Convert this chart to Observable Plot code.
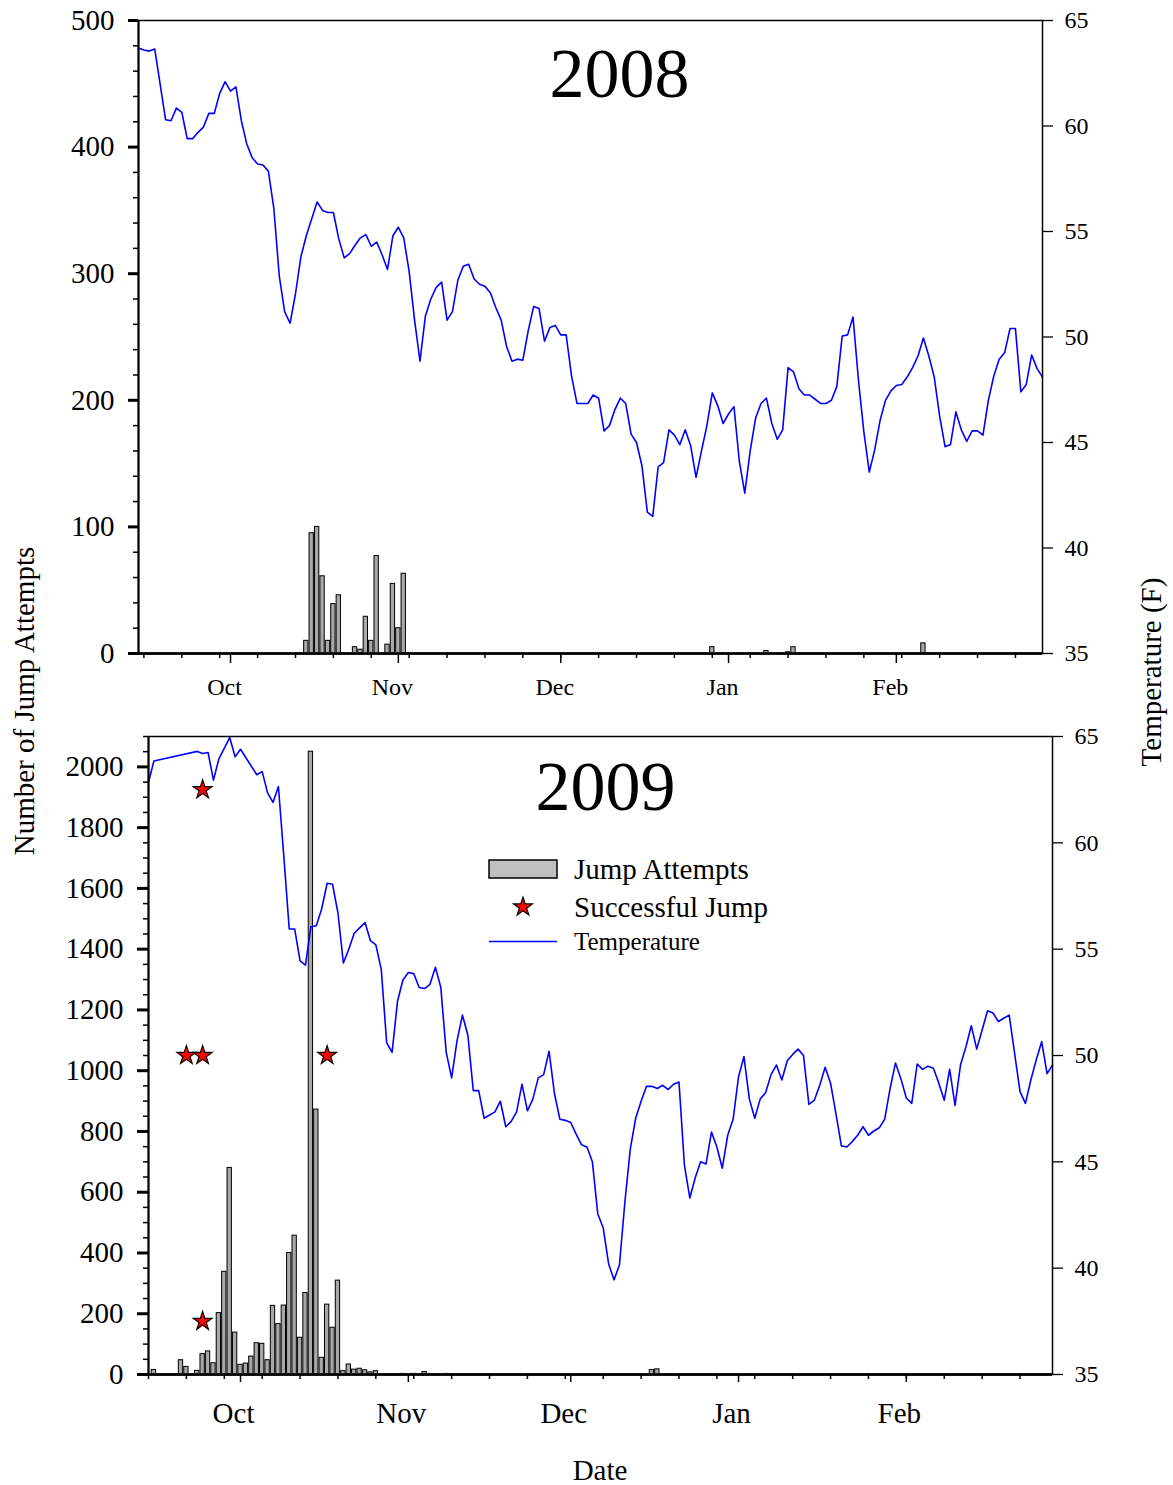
<!DOCTYPE html>
<html><head><meta charset="utf-8">
<script src="https://cdn.jsdelivr.net/npm/d3@7"></script>
<script src="https://cdn.jsdelivr.net/npm/@observablehq/plot@0.6"></script>
<style>
body{margin:0;background:#fff;}
#wrap{position:relative;width:1173px;height:1485px;font-family:"Liberation Serif","Times New Roman",serif;background:#fff;}
#top,#bottom,#overlay{position:absolute;left:0;}
#top{top:0}
#bottom{top:715px}
#overlay{top:0;pointer-events:none}
</style></head>
<body><div id="wrap"><div id="top"></div><div id="bottom"></div><svg id="overlay" width="1173" height="1485"></svg></div>
<script>
// ---------------- DATA ----------------
const temp2008 = [
["2008-09-14",63.7],["2008-09-15",63.6],["2008-09-16",63.55],["2008-09-17",63.65],["2008-09-19",60.3],["2008-09-20",60.25],
["2008-09-21",60.85],["2008-09-22",60.65],["2008-09-23",59.4],["2008-09-24",59.4],["2008-09-25",59.7],["2008-09-26",59.95],
["2008-09-27",60.6],["2008-09-28",60.6],["2008-09-29",61.55],["2008-09-30",62.1],["2008-10-01",61.65],["2008-10-02",61.85],
["2008-10-03",60.25],["2008-10-04",59.15],["2008-10-05",58.5],["2008-10-06",58.2],["2008-10-07",58.15],["2008-10-08",57.85],
["2008-10-09",56.1],["2008-10-10",52.9],["2008-10-11",51.2],["2008-10-12",50.65],["2008-10-13",52.05],["2008-10-14",53.8],
["2008-10-15",54.8],["2008-10-16",55.6],["2008-10-17",56.4],["2008-10-18",56.0],["2008-10-19",55.9],["2008-10-20",55.9],
["2008-10-21",54.65],["2008-10-22",53.75],["2008-10-23",53.95],["2008-10-24",54.35],["2008-10-25",54.7],["2008-10-26",54.85],
["2008-10-27",54.3],["2008-10-28",54.5],["2008-10-29",53.9],["2008-10-30",53.2],["2008-10-31",54.8],["2008-11-01",55.2],
["2008-11-02",54.7],["2008-11-03",53.1],["2008-11-04",50.8],["2008-11-05",48.85],["2008-11-06",51.0],["2008-11-07",51.8],
["2008-11-08",52.35],["2008-11-09",52.6],["2008-11-10",50.8],["2008-11-11",51.2],["2008-11-12",52.7],["2008-11-13",53.35],
["2008-11-14",53.45],["2008-11-15",52.75],["2008-11-16",52.5],["2008-11-17",52.4],["2008-11-18",52.1],["2008-11-19",51.4],
["2008-11-20",50.8],["2008-11-21",49.55],["2008-11-22",48.85],["2008-11-23",48.95],["2008-11-24",48.9],["2008-11-25",50.3],
["2008-11-26",51.45],["2008-11-27",51.35],["2008-11-28",49.8],["2008-11-29",50.45],["2008-11-30",50.55],["2008-12-01",50.1],
["2008-12-02",50.1],["2008-12-03",48.15],["2008-12-04",46.85],["2008-12-05",46.85],["2008-12-06",46.85],["2008-12-07",47.25],
["2008-12-08",47.1],["2008-12-09",45.55],["2008-12-10",45.8],["2008-12-11",46.55],["2008-12-12",47.1],["2008-12-13",46.85],
["2008-12-14",45.4],["2008-12-15",45.0],["2008-12-16",43.9],["2008-12-17",41.7],["2008-12-18",41.5],["2008-12-19",43.85],
["2008-12-20",44.05],["2008-12-21",45.6],["2008-12-22",45.35],["2008-12-23",44.9],["2008-12-24",45.6],["2008-12-25",44.85],
["2008-12-26",43.35],["2008-12-27",44.6],["2008-12-28",45.8],["2008-12-29",47.35],["2008-12-30",46.75],["2008-12-31",45.9],
["2009-01-01",46.35],["2009-01-02",46.7],["2009-01-03",44.1],["2009-01-04",42.6],["2009-01-05",44.6],["2009-01-06",46.15],
["2009-01-07",46.85],["2009-01-08",47.1],["2009-01-09",45.9],["2009-01-10",45.15],["2009-01-11",45.6],["2009-01-12",48.55],
["2009-01-13",48.35],["2009-01-14",47.55],["2009-01-15",47.25],["2009-01-16",47.25],["2009-01-17",47.05],["2009-01-18",46.85],
["2009-01-19",46.85],["2009-01-20",47.0],["2009-01-21",47.65],["2009-01-22",50.05],["2009-01-23",50.1],["2009-01-24",50.95],
["2009-01-25",47.95],["2009-01-26",45.5],["2009-01-27",43.6],["2009-01-28",44.65],["2009-01-29",46.05],["2009-01-30",47.0],
["2009-01-31",47.45],["2009-02-01",47.7],["2009-02-02",47.75],["2009-02-03",48.1],["2009-02-04",48.55],["2009-02-05",49.1],
["2009-02-06",49.95],["2009-02-07",49.1],["2009-02-08",48.1],["2009-02-09",46.25],["2009-02-10",44.8],["2009-02-11",44.9],
["2009-02-12",46.45],["2009-02-13",45.6],["2009-02-14",45.05],["2009-02-15",45.55],["2009-02-16",45.55],["2009-02-17",45.35],
["2009-02-18",47.0],["2009-02-19",48.15],["2009-02-20",48.95],["2009-02-21",49.25],["2009-02-22",50.4],["2009-02-23",50.4],
["2009-02-24",47.4],["2009-02-25",47.75],["2009-02-26",49.15],["2009-02-27",48.5],["2009-02-28",48.1]
];
const jumps2008 = [
["2008-10-15",10],["2008-10-16",95],["2008-10-17",100],["2008-10-18",61],["2008-10-19",10],["2008-10-20",39],["2008-10-21",46],
["2008-10-24",5],["2008-10-25",3],["2008-10-26",29],["2008-10-27",10],["2008-10-28",77],
["2008-10-30",7],["2008-10-31",55],["2008-11-01",20],["2008-11-02",63],
["2008-12-29",5],["2009-01-08",2],["2009-01-12",1],["2009-01-13",5],["2009-02-06",8]
];
const temp2009 = [
["2009-09-14",62.85],["2009-09-15",63.85],["2009-09-23",64.3],["2009-09-24",64.2],["2009-09-25",64.25],["2009-09-26",62.95],
["2009-09-27",63.95],["2009-09-29",64.95],["2009-09-30",64.05],["2009-10-01",64.4],["2009-10-02",64.0],["2009-10-03",63.6],
["2009-10-04",63.2],["2009-10-05",63.35],["2009-10-06",62.35],["2009-10-07",61.9],["2009-10-08",62.65],["2009-10-09",59.35],
["2009-10-10",55.95],["2009-10-11",55.95],["2009-10-12",54.45],["2009-10-13",54.25],["2009-10-14",56.05],["2009-10-15",56.1],
["2009-10-16",56.9],["2009-10-17",58.1],["2009-10-18",58.05],["2009-10-19",56.7],["2009-10-20",54.35],["2009-10-21",55.0],
["2009-10-22",55.75],["2009-10-23",56.0],["2009-10-24",56.25],["2009-10-25",55.4],["2009-10-26",55.2],["2009-10-27",54.05],
["2009-10-28",50.6],["2009-10-29",50.15],["2009-10-30",52.55],["2009-10-31",53.55],["2009-11-01",53.9],["2009-11-02",53.85],
["2009-11-03",53.2],["2009-11-04",53.15],["2009-11-05",53.35],["2009-11-06",54.15],["2009-11-07",53.2],["2009-11-08",50.15],
["2009-11-09",48.95],["2009-11-10",50.7],["2009-11-11",51.9],["2009-11-12",50.95],["2009-11-13",48.35],["2009-11-14",48.35],
["2009-11-15",47.05],["2009-11-16",47.2],["2009-11-17",47.35],["2009-11-18",47.85],["2009-11-19",46.65],["2009-11-20",46.9],
["2009-11-21",47.35],["2009-11-22",48.65],["2009-11-23",47.4],["2009-11-24",47.95],["2009-11-25",48.95],["2009-11-26",49.1],
["2009-11-27",50.2],["2009-11-28",48.2],["2009-11-29",47.0],["2009-11-30",46.95],["2009-12-01",46.85],["2009-12-02",46.3],
["2009-12-03",45.8],["2009-12-04",45.7],["2009-12-05",45.0],["2009-12-06",42.55],["2009-12-07",41.9],["2009-12-08",40.2],
["2009-12-09",39.45],["2009-12-10",40.15],["2009-12-11",43.1],["2009-12-12",45.6],["2009-12-13",47.05],["2009-12-14",47.85],
["2009-12-15",48.55],["2009-12-16",48.55],["2009-12-17",48.45],["2009-12-18",48.6],["2009-12-19",48.4],["2009-12-20",48.65],
["2009-12-21",48.75],["2009-12-22",44.85],["2009-12-23",43.3],["2009-12-24",44.25],["2009-12-25",45.0],["2009-12-26",44.9],
["2009-12-27",46.4],["2009-12-28",45.7],["2009-12-29",44.7],["2009-12-30",46.25],["2009-12-31",47.0],["2010-01-01",49.0],
["2010-01-02",49.95],["2010-01-03",47.95],["2010-01-04",47.05],["2010-01-05",47.95],["2010-01-06",48.25],["2010-01-07",49.1],
["2010-01-08",49.55],["2010-01-09",48.85],["2010-01-10",49.75],["2010-01-11",50.05],["2010-01-12",50.3],["2010-01-13",50.0],
["2010-01-14",47.7],["2010-01-15",47.9],["2010-01-16",48.6],["2010-01-17",49.45],["2010-01-18",48.7],["2010-01-19",47.25],
["2010-01-20",45.75],["2010-01-21",45.7],["2010-01-22",45.95],["2010-01-23",46.25],["2010-01-24",46.65],["2010-01-25",46.25],
["2010-01-26",46.45],["2010-01-27",46.6],["2010-01-28",47.0],["2010-01-29",48.45],["2010-01-30",49.65],["2010-01-31",48.9],
["2010-02-01",48.0],["2010-02-02",47.75],["2010-02-03",49.6],["2010-02-04",49.35],["2010-02-05",49.5],["2010-02-06",49.4],
["2010-02-07",48.7],["2010-02-08",47.9],["2010-02-09",49.35],["2010-02-10",47.65],["2010-02-11",49.55],["2010-02-12",50.4],
["2010-02-13",51.4],["2010-02-14",50.3],["2010-02-15",51.2],["2010-02-16",52.1],["2010-02-17",52.0],["2010-02-18",51.6],
["2010-02-19",51.75],["2010-02-20",51.9],["2010-02-21",50.1],["2010-02-22",48.3],["2010-02-23",47.75],["2010-02-24",48.85],
["2010-02-25",49.8],["2010-02-26",50.65],["2010-02-27",49.15],["2010-02-28",49.55]
];
const jumps2009 = [
["2009-09-15",15],["2009-09-20",47],["2009-09-21",25],["2009-09-23",12],["2009-09-24",67],["2009-09-25",76],["2009-09-26",37],
["2009-09-27",202],["2009-09-28",338],["2009-09-29",680],["2009-09-30",138],["2009-10-01",32],["2009-10-02",36],["2009-10-03",59],
["2009-10-04",103],["2009-10-05",101],["2009-10-06",47],["2009-10-07",226],["2009-10-08",166],["2009-10-09",227],["2009-10-10",400],
["2009-10-11",457],["2009-10-12",121],["2009-10-13",268],["2009-10-14",2050],["2009-10-15",872],["2009-10-16",55],["2009-10-17",230],
["2009-10-18",154],["2009-10-19",309],["2009-10-20",11],["2009-10-21",33],["2009-10-22",16],["2009-10-23",19],["2009-10-24",14],
["2009-10-25",7],["2009-10-26",11],["2009-10-31",2],["2009-11-02",2],["2009-11-04",8],["2009-11-08",2],
["2009-12-16",15],["2009-12-17",17]
];
const success2009 = [["2009-09-24",1925],["2009-09-21",1050],["2009-09-24",1050],["2009-10-17",1050],["2009-09-24",175]];
const tempTicks = [35, 40, 45, 50, 55, 60, 65];
const domain2008 = ["2008-09-14", "2009-02-28"];
const domain2009 = ["2009-09-14", "2010-02-28"];

// ---------------- DRAW ----------------
const parse = d3.utcParse("%Y-%m-%d");
const DAY = 864e5;
const FONT = "Liberation Serif, Times New Roman, serif";

function panel(cfg) {
  const domain = cfg.domain.map(parse);
  const T = cfg.temps.map(([d, v]) => ({date: parse(d), t: v}));
  const J = cfg.jumps.map(([d, v]) => ({date: parse(d), n: v}));
  const S = (cfg.stars || []).map(([d, v]) => ({date: parse(d), n: v}));
  const ymax = cfg.ymax;
  const toY = t => (t - 35) / 30 * ymax;
  const months = d3.utcMonth.range(d3.utcMonth.ceil(domain[0]), domain[1]);
  const mondays = d3.utcMonday.range(domain[0], d3.utcDay.offset(domain[1], 1));
  return Plot.plot({
    width: 1173, height: cfg.height,
    marginLeft: cfg.ml, marginRight: cfg.mr, marginTop: cfg.mt, marginBottom: cfg.mb,
    style: {fontFamily: FONT, background: "white", color: "black"},
    x: {type: "utc", domain},
    y: {domain: [0, ymax]},
    marks: [
      Plot.rectY(J, {x1: d => new Date(+d.date - 0.4 * DAY), x2: d => new Date(+d.date + 0.4 * DAY), y: "n",
        fill: "#a8a8a8", stroke: "black", strokeWidth: 1}),
      Plot.line(T, {x: "date", y: d => toY(d.t), stroke: "#0000ff", strokeWidth: 1.6}),
      Plot.dot(S, {x: "date", y: "n", symbol: "star", r: 5.9, fill: "#ff0000", stroke: "black", strokeWidth: 1.2}),
      Plot.ruleY([0], {strokeWidth: 3, stroke: "#222"}),
      Plot.frame({stroke: "black", strokeWidth: 1.5}),
      Plot.ruleX([domain[0]], {strokeWidth: 2}),
      // left axis
      Plot.axisY(d3.range(0, ymax + 1, cfg.major), {tickSize: cfg.leftTick, tickPadding: 14, fontSize: 29, strokeWidth: 3,
        tickFormat: v => String(v), label: null}),
      Plot.axisY(d3.range(0, ymax + 1, cfg.minor), {tickSize: 5, fill: "none", strokeWidth: 1.5, label: null}),
      // right axis (temperature)
      Plot.axisY(tempTicks.map(toY), {anchor: "right", tickSize: 10, tickPadding: 12, fontSize: 24, strokeWidth: 1.3,
        tickFormat: v => String(Math.round(35 + v / ymax * 30)), label: null}),
      // x axis
      Plot.axisX(months, {tickSize: cfg.monthTick, fill: "none", strokeWidth: 1.5, label: null}),
      Plot.axisX(months, {tickSize: cfg.monthTick, tickPadding: cfg.monthPad, stroke: "none", fontSize: cfg.monthFont,
        dx: cfg.monthDx, tickFormat: d3.utcFormat("%b"), label: null}),
      Plot.axisX(mondays, {tickSize: 5, fill: "none", strokeWidth: 1.5, label: null}),
      // big year title
      Plot.text([cfg.title], {frameAnchor: "top", text: d => d, dx: cfg.titleDx, dy: cfg.titleDy, fontSize: 70, lineAnchor: "middle", fill: "black"})
    ]
  });
}

document.getElementById("top").append(panel({
  temps: temp2008, jumps: jumps2008, domain: domain2008, ymax: 500, major: 100, minor: 20, title: "2008",
  height: 715, ml: 138, mr: 131, mt: 20, mb: 62, leftTick: 10,
  monthTick: 10, monthPad: 14, monthFont: 24, monthDx: -6, titleDx: 29, titleDy: 54
}));
document.getElementById("bottom").append(panel({
  temps: temp2009, jumps: jumps2009, stars: success2009, domain: domain2009, ymax: 2100, major: 200, minor: 50, title: "2009",
  height: 770, ml: 148, mr: 121, mt: 21, mb: 111, leftTick: 11,
  monthTick: 8, monthPad: 20, monthFont: 29, monthDx: -7, titleDx: 5, titleDy: 51
}));

// ---------------- shared labels & legend ----------------
const ov = d3.select("#overlay").style("font-family", FONT);
ov.append("text").attr("transform", "translate(34,701) rotate(-90)").attr("text-anchor", "middle")
  .attr("font-size", 29).text("Number of Jump Attempts");
ov.append("text").attr("transform", "translate(1161,672) rotate(-90)").attr("text-anchor", "middle")
  .attr("font-size", 29).text("Temperature (F)");
ov.append("text").attr("x", 600).attr("y", 1480).attr("text-anchor", "middle").attr("font-size", 29).text("Date");

const lg = ov.append("g");
lg.append("rect").attr("x", 489).attr("y", 860).attr("width", 68).attr("height", 18)
  .attr("fill", "#c0c0c0").attr("stroke", "black").attr("stroke-width", 1.5);
lg.append("text").attr("x", 574).attr("y", 878.5).attr("font-size", 29).text("Jump Attempts");
lg.append("path").attr("d", d3.symbol(d3.symbolStar, Math.PI * 5.9 * 5.9)())
  .attr("transform", "translate(523,907)").attr("fill", "#ff0000").attr("stroke", "black").attr("stroke-width", 1.2);
lg.append("text").attr("x", 574).attr("y", 917).attr("font-size", 29).text("Successful Jump");
lg.append("line").attr("x1", 489).attr("x2", 557).attr("y1", 941.5).attr("y2", 941.5)
  .attr("stroke", "#0000ff").attr("stroke-width", 1.6);
lg.append("text").attr("x", 574).attr("y", 950).attr("font-size", 25).text("Temperature");
</script>
</body></html>
